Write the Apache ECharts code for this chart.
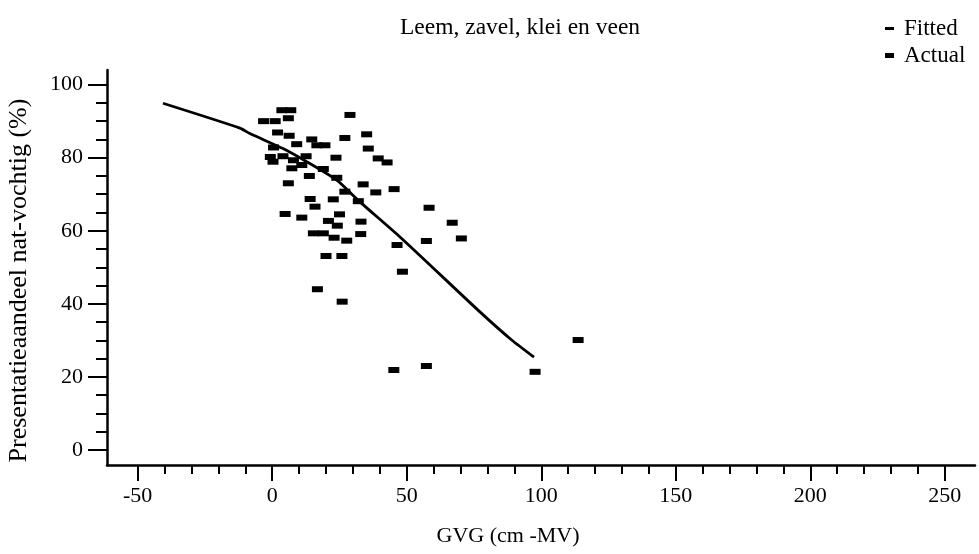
<!DOCTYPE html>
<html>
<head>
<meta charset="utf-8">
<script src="https://cdn.jsdelivr.net/npm/echarts@6/dist/echarts.min.js"></script>
<style>
  html, body { margin: 0; padding: 0; background: #fff; }
  #chart { width: 979px; height: 554px; }
</style>
</head>
<body>
<div id="chart"></div>
<script>
// ---- Data ----
const titleText = 'Leem, zavel, klei en veen';
const xAxisName = 'GVG (cm -MV)';
const yAxisName = 'Presentatieaandeel nat-vochtig (%)';

const xMajorTicks = [-50, 0, 50, 100, 150, 200, 250];
const xMinorTicks = [-50, -40, -30, -20, -10, 0, 10, 20, 30, 40, 50, 60, 70, 80, 90, 100,
  110, 120, 130, 140, 150, 160, 170, 180, 190, 200, 210, 220, 230, 240, 250];
const yMajorTicks = [0, 20, 40, 60, 80, 100];
const yMinorTicks = [0, 5, 10, 15, 20, 25, 30, 35, 40, 45, 50, 55, 60, 65, 70, 75, 80, 85, 90, 95, 100];

const fittedX = [-40.6, -12.0, -8.3, 4.0, 12.8, 23.9, 32.6, 48.1, 77.2, 89.0, 97.3];
const fittedY = [94.9, 88.1, 86.6, 82.5, 78.9, 73.9, 67.9, 57.9, 37.8, 30.1, 25.4];

const actualX = [3.6, 6.9, -3.2, 1.1, 6.0, 28.9, 2.0, 6.3, 14.7, 27.0,
  35.1, 9.1, 16.6, 19.6, 0.5, 35.7, -0.7, 0.3, 4.0, 7.9,
  12.6, 23.7, 39.4, 42.7, 11.0, 7.3, 19.0, 13.8, 24.0, 33.8,
  6.0, 27.0, 38.5, 45.3, 14.1, 22.7, 32.0, 15.9, 4.8, 11.0,
  25.0, 20.9, 24.2, 33.0, 15.3, 19.0, 23.0, 27.7, 32.9, 20.0,
  25.9, 16.8, 26.0, 58.3, 66.9, 70.3, 57.3, 46.4, 48.4, 45.2,
  57.3, 97.7, 113.7];
const actualY = [93.0, 93.0, 90.0, 90.0, 90.8, 91.7, 86.9, 86.0, 85.0, 85.4,
  86.4, 83.7, 83.4, 83.4, 82.8, 82.5, 80.2, 78.9, 80.4, 79.3,
  80.4, 80.0, 79.8, 78.7, 78.0, 77.1, 76.9, 75.0, 74.5, 72.7,
  73.0, 70.7, 70.5, 71.4, 68.7, 68.6, 68.1, 66.6, 64.6, 63.6,
  64.5, 62.7, 61.4, 62.5, 59.3, 59.3, 58.1, 57.3, 59.1, 53.1,
  53.1, 44.0, 40.6, 66.3, 62.2, 57.9, 57.2, 56.1, 48.8, 21.9,
  23.0, 21.4, 30.1];

// ---- Chart ----
const FONT = 'Liberation Serif';
const X_MIN = -61.4, X_MAX = 261.2, Y_MIN = -4.1, Y_MAX = 104.0;

const chart = echarts.init(document.getElementById('chart'), null, { renderer: 'canvas' });

const baseText = { fontFamily: FONT, fontSize: 22, color: '#000' };

const option = {
  animation: false,
  backgroundColor: '#fff',
  title: {
    text: titleText,
    left: 400,
    top: 16,
    padding: 0,
    textStyle: Object.assign({}, baseText, { fontSize: 23.5, fontWeight: 'normal' })
  },
  legend: [
    {
      data: [{ name: 'Fitted', icon: 'rect', itemStyle: { opacity: 1 } }],
      left: 885, top: 17, padding: 0,
      itemWidth: 9, itemHeight: 3,
      textStyle: Object.assign({}, baseText, { fontSize: 23, padding: [0, 0, 0, 5] })
    },
    {
      data: [{ name: 'Actual', icon: 'rect', itemStyle: { opacity: 1 } }],
      left: 885, top: 44, padding: 0,
      itemWidth: 9, itemHeight: 5,
      textStyle: Object.assign({}, baseText, { fontSize: 23, padding: [0, 0, 0, 5] })
    }
  ],
  grid: { left: 107, right: 4, top: 70, bottom: 89, containLabel: false, outerBoundsMode: 'none' },
  xAxis: [
    {
      type: 'value', position: 'bottom', min: X_MIN, max: X_MAX,
      name: xAxisName, nameLocation: 'middle', nameGap: 60,
      nameTextStyle: Object.assign({}, baseText, { padding: [0, 66, 0, 0] }),
      axisLine: { show: true, onZero: false, lineStyle: { color: '#000', width: 2.5 } },
      axisTick: { show: true, customValues: xMajorTicks, length: 16, lineStyle: { color: '#000', width: 2 } },
      axisLabel: Object.assign({ customValues: xMajorTicks, margin: 20 }, baseText),
      splitLine: { show: false }
    },
    {
      type: 'value', position: 'bottom', min: X_MIN, max: X_MAX,
      axisLine: { show: false, onZero: false },
      axisTick: { show: true, customValues: xMinorTicks, length: 9, lineStyle: { color: '#000', width: 2 } },
      axisLabel: { show: false },
      splitLine: { show: false }
    }
  ],
  yAxis: [
    {
      type: 'value', position: 'left', min: Y_MIN, max: Y_MAX,
      name: yAxisName, nameLocation: 'middle', nameGap: 75, nameRotate: 90,
      nameTextStyle: Object.assign({}, baseText, { fontSize: 26, padding: [0, 26, 0, 0] }),
      axisLine: { show: true, onZero: false, lineStyle: { color: '#000', width: 2.5 } },
      axisTick: { show: true, customValues: yMajorTicks, length: 19, lineStyle: { color: '#000', width: 2 } },
      axisLabel: Object.assign({ customValues: yMajorTicks, margin: 24 }, baseText),
      splitLine: { show: false }
    },
    {
      type: 'value', position: 'left', min: Y_MIN, max: Y_MAX,
      axisLine: { show: false, onZero: false },
      axisTick: { show: true, customValues: yMinorTicks, length: 11, lineStyle: { color: '#000', width: 2 } },
      axisLabel: { show: false },
      splitLine: { show: false }
    }
  ],
  series: [
    {
      name: 'Fitted', type: 'line', xAxisIndex: 0, yAxisIndex: 0,
      data: fittedX.map((x, i) => [x, fittedY[i]]),
      showSymbol: false, smooth: 0.2,
      lineStyle: { color: '#000', width: 2.8 },
      itemStyle: { color: '#000', opacity: 1 }
    },
    {
      name: 'Actual', type: 'scatter', xAxisIndex: 0, yAxisIndex: 0,
      data: actualX.map((x, i) => [x, actualY[i]]),
      symbol: 'rect', symbolSize: [11, 6],
      itemStyle: { color: '#000', opacity: 1 }
    }
  ]
};

chart.setOption(option);
</script>
</body>
</html>
